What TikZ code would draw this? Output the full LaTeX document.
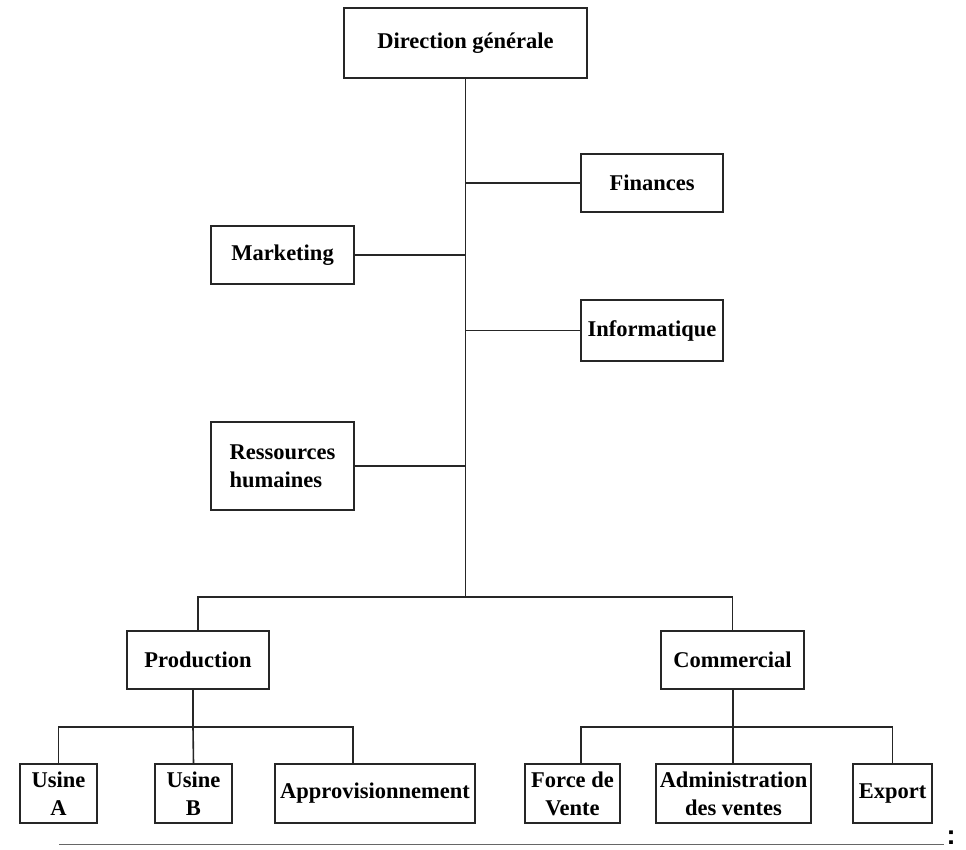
\documentclass[tikz,border=0pt]{standalone}
\usepackage{fontspec}
\setmainfont{Liberation Serif}
\newfontfamily\colonfont{Liberation Sans}
\begin{document}
\begin{tikzpicture}[x=1pt,y=-1pt,
  unit/.style={draw=black!85, line width=1.6pt, inner sep=0pt, align=center,
    font=\fontsize{22.5}{28}\selectfont\bfseries, text=black},
  link/.style={draw=black!85, line width=1.6pt}]
\useasboundingbox (0,0) rectangle (966,849);

% top management
\node[unit, minimum width=243, minimum height=70] (dg) at (465.5,43) {Direction générale};

% staff departments along the trunk
\node[unit, minimum width=142, minimum height=58] (fin)  at (652,183)   {Finances};
\node[unit, minimum width=143, minimum height=58] (mkt)  at (282.5,255) {Marketing};
\node[unit, minimum width=142, minimum height=61] (info) at (652,330.5) {Informatique};
\node[unit, minimum width=143, minimum height=88, align=left] (rh) at (282.5,466) {Ressources\\humaines};

% operational divisions
\node[unit, minimum width=142, minimum height=58] (prod) at (198,660)   {Production};
\node[unit, minimum width=143, minimum height=58] (com)  at (732.5,660) {Commercial};

% production units
\node[unit, minimum width=77,  minimum height=59] (ua)    at (58.5,793.5)  {Usine\\A};
\node[unit, minimum width=77,  minimum height=59] (ub)    at (193.5,793.5) {Usine\\B};
\node[unit, minimum width=200, minimum height=59] (appro) at (375,793.5)   {Approvisionnement};

% commercial units
\node[unit, minimum width=95,  minimum height=59] (fv)  at (572.5,793.5) {Force de\\Vente};
\node[unit, minimum width=155, minimum height=59] (adv) at (733.5,793.5) {Administration\\des ventes};
\node[unit, minimum width=79,  minimum height=59] (exp) at (892.5,793.5) {Export};

% junction points
\coordinate (split) at (465.5,597);
\coordinate (pj)    at (193,727);
\coordinate (apj)   at (353,727);
\coordinate (cj)    at (733,727);
\coordinate (fvj)   at (581,727);

% trunk and staff branches
\draw[link] (dg.south) -- (split);
\draw[link] (fin.west)  -- (fin.west -| dg.south);
\draw[link] (mkt.east)  -- (mkt.east -| dg.south);
\draw[link] (info.west) -- (info.west -| dg.south);
\draw[link] (rh.east)   -- (rh.east -| dg.south);

% divisions
\draw[link] (prod.north) |- (split) -| (com.north);

% production branch
\draw[link] (prod.south -| pj) -- (pj);
\draw[link] (ua.north) |- (apj) -- (apj |- appro.north);
\draw[link] (ub.north) -- (pj);

% commercial branch
\draw[link] (com.south -| cj) -- (cj);
\draw[link] (fvj |- fv.north) -- (fvj) -| (exp.north);
\draw[link] (adv.north -| cj) -- (cj);

% closing rule
\coordinate (ruleL) at (59,844.5);
\coordinate (ruleR) at (944,844.5);
\draw[draw=black!60, line width=1.8pt] (ruleL) -- (ruleR);
\node[font=\colonfont\bfseries\fontsize{27}{30}\selectfont, inner sep=0pt] (colon) at (951,837.5) {:};
\end{tikzpicture}
\end{document}
